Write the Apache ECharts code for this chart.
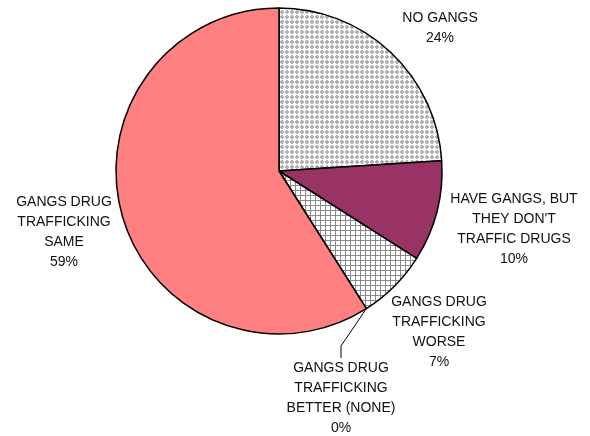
<!DOCTYPE html>
<html>
<head>
<meta charset="utf-8">
<script src="https://cdn.jsdelivr.net/npm/echarts@6/dist/echarts.min.js"></script>
<style>
  html, body { margin: 0; padding: 0; background: #fff; }
  #chart { width: 590px; height: 436px; }
</style>
</head>
<body>
<div id="chart"></div>
<script>
const categories = [
  'NO GANGS',
  "HAVE GANGS, BUT\nTHEY DON'T\nTRAFFIC DRUGS",
  'GANGS DRUG\nTRAFFICKING\nWORSE',
  'GANGS DRUG\nTRAFFICKING\nBETTER (NONE)',
  'GANGS DRUG\nTRAFFICKING\nSAME'
];
const shares = [24, 10, 7, 0, 59];

// label anchor points (centre of each text block)
const labelSpots = [[440, 28], [514, 229], [439, 332], [341, 398], [64, 232]];

function dotTile() {
  const c = document.createElement('canvas');
  c.width = 5; c.height = 5;
  const g = c.getContext('2d');
  g.fillStyle = '#fff';
  g.fillRect(0, 0, 5, 5);
  g.fillStyle = '#b2b2b2';
  g.fillRect(1, 0, 2, 4);
  g.fillRect(0, 1, 4, 2);
  return c;
}

function gridTile() {
  const c = document.createElement('canvas');
  c.width = 5; c.height = 5;
  const g = c.getContext('2d');
  g.fillStyle = '#fff';
  g.fillRect(0, 0, 5, 5);
  g.fillStyle = '#8a8a8a';
  g.fillRect(0, 0, 5, 1);
  g.fillRect(0, 0, 1, 5);
  return c;
}

const fills = [
  { image: dotTile(), repeat: 'repeat' },
  '#993366',
  { image: gridTile(), repeat: 'repeat' },
  '#ffffff',
  '#ff8080'
];

const chart = echarts.init(document.getElementById('chart'), null, { renderer: 'canvas' });

chart.setOption({
  backgroundColor: '#fff',
  animation: false,
  series: [{
    type: 'pie',
    center: [279, 171],
    radius: 163,
    startAngle: 90,
    clockwise: true,
    avoidLabelOverlap: false,
    itemStyle: { borderColor: '#000', borderWidth: 1.5 },
    label: {
      show: true,
      position: 'outside',
      formatter: '{b}\n{c}%',
      color: '#111',
      fontFamily: 'Liberation Sans, Arial, sans-serif',
      fontSize: 14,
      lineHeight: 20,
      align: 'center'
    },
    labelLine: { show: false },
    labelLayout: (p) => ({
      x: labelSpots[p.dataIndex][0],
      y: labelSpots[p.dataIndex][1],
      align: 'center',
      verticalAlign: 'middle'
    }),
    emphasis: { disabled: true },
    data: categories.map((name, i) => ({
      name,
      value: shares[i],
      itemStyle: { color: fills[i] },
      labelLine: i === 3
        ? { show: true, lineStyle: { color: '#000', width: 1 }, length: 20, length2: 12 }
        : { show: false }
    }))
  }]
});
</script>
</body>
</html>
